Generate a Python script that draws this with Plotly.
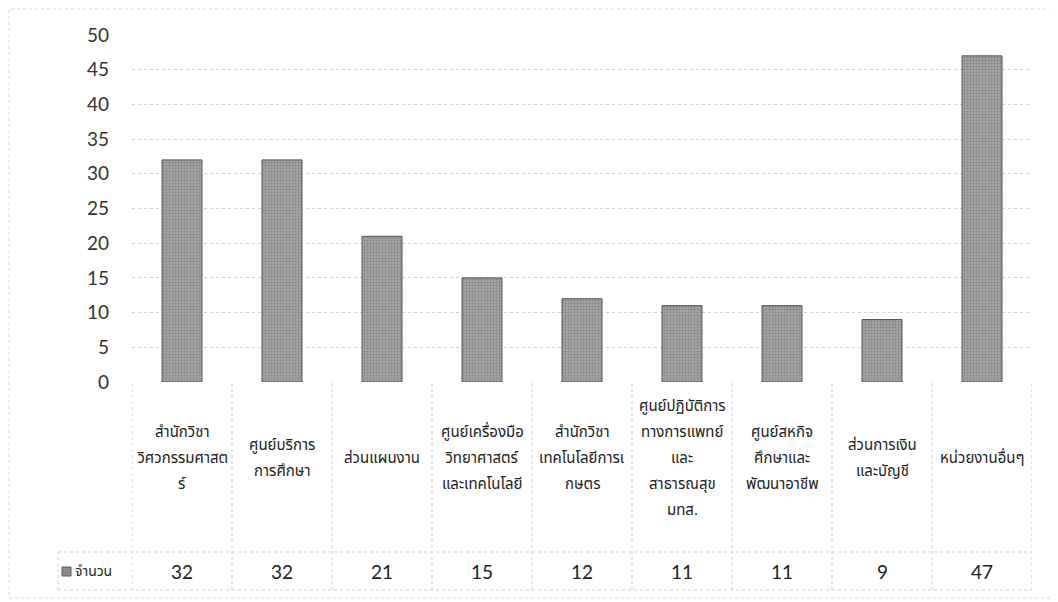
import plotly.graph_objects as go

categories = [
    "สำนักวิชาวิศวกรรมศาสตร์",
    "ศูนย์บริการการศึกษา",
    "ส่วนแผนงาน",
    "ศูนย์เครื่องมือวิทยาศาสตร์และเทคโนโลยี",
    "สำนักวิชาเทคโนโลยีการเกษตร",
    "ศูนย์ปฏิบัติการทางการแพทย์และสาธารณสุข มทส.",
    "ศูนย์สหกิจศึกษาและพัฒนาอาชีพ",
    "ส่วนการเงินและบัญชี",
    "หน่วยงานอื่นๆ",
]
label_lines = [
    ["สำนักวิชา", "วิศวกรรมศาสต", "ร์"],
    ["ศูนย์บริการ", "การศึกษา"],
    ["ส่วนแผนงาน"],
    ["ศูนย์เครื่องมือ", "วิทยาศาสตร์", "และเทคโนโลยี"],
    ["สำนักวิชา", "เทคโนโลยีการเ", "กษตร"],
    ["ศูนย์ปฏิบัติการ", "ทางการแพทย์", "และ", "สาธารณสุข", "มทส."],
    ["ศูนย์สหกิจ", "ศึกษาและ", "พัฒนาอาชีพ"],
    ["ส่วนการเงิน", "และบัญชี"],
    ["หน่วยงานอื่นๆ"],
]
values = [32, 32, 21, 15, 12, 11, 11, 9, 47]
series_name = "จำนวน"
y_ticks = [0, 5, 10, 15, 20, 25, 30, 35, 40, 45, 50]

OFF = 8  # page body margin
W, H = 1058, 602
SX0, SX1, SY0, SY1 = 132, 1032, 35, 382
L = SX0 - OFF
T = SY0 - OFF
R = W - (SX1 - OFF)
B = H - (SY1 - OFF)
PH = H - T - B
PW = W - L - R


def py(pix):
    return (SY1 - pix) / PH


def px(pix):
    return (pix - SX0) / PW


THAI = "Noto Sans Thai, Tahoma, Noto Sans, sans-serif"
NUM = "Lato, Open Sans, sans-serif"

fig = go.Figure()
fig.add_trace(go.Bar(
    x=categories, y=values, name=series_name, width=0.4,
    marker=dict(color="#999999", line=dict(color="#555555", width=1),
                pattern=dict(shape=".", fgcolor="#666666", bgcolor="#a3a3a3",
                             size=3, solidity=0.35)),
    showlegend=False,
))

shapes = []
grid_col = "#cfcfcf"
shapes.append(dict(type="rect", xref="paper", yref="paper",
                   x0=px(9), x1=px(1052), y0=py(598), y1=py(9),
                   line=dict(color="#d6d6d6", width=1, dash="dot")))
n = len(categories)
for i in range(n + 1):
    shapes.append(dict(type="line", xref="x", yref="paper",
                       x0=i - 0.5, x1=i - 0.5, y0=py(590), y1=0,
                       line=dict(color=grid_col, width=1, dash="dot")))
shapes.append(dict(type="line", xref="paper", yref="paper",
                   x0=px(58), x1=px(58), y0=py(590), y1=py(552),
                   line=dict(color=grid_col, width=1, dash="dot")))
for yy in (552, 590):
    shapes.append(dict(type="line", xref="paper", yref="paper",
                       x0=px(58), x1=1, y0=py(yy), y1=py(yy),
                       line=dict(color=grid_col, width=1, dash="dot")))
shapes.append(dict(type="rect", xref="paper", yref="paper",
                   x0=px(62), x1=px(71), y0=py(576), y1=py(567),
                   fillcolor="#8c8c8c", line=dict(color="#5a5a5a", width=1)))

annotations = []
spacing = 26
center = 458
for cat, lines in zip(categories, label_lines):
    k = len(lines)
    for j, line in enumerate(lines):
        yy = center + (j - (k - 1) / 2) * spacing
        annotations.append(dict(x=cat, xref="x", y=py(yy), yref="paper",
                                text=line, showarrow=False, xanchor="center",
                                yanchor="middle",
                                font=dict(family=THAI, size=15, color="#222222")))
for cat, v in zip(categories, values):
    annotations.append(dict(x=cat, xref="x", y=py(571), yref="paper",
                            text=str(v), showarrow=False, xanchor="center",
                            yanchor="middle",
                            font=dict(family=NUM, size=19, color="#222222")))
annotations.append(dict(x=px(73), xref="paper", y=py(571), yref="paper",
                        text=series_name, showarrow=False, xanchor="left",
                        yanchor="middle",
                        font=dict(family=THAI, size=14, color="#222222")))

fig.update_layout(
    width=W, height=H,
    margin=dict(l=L, r=R, t=T, b=B, autoexpand=False),
    paper_bgcolor="white", plot_bgcolor="white",
    shapes=shapes, annotations=annotations,
)
fig.update_xaxes(type="category", range=[-0.5, n - 0.5], showticklabels=False,
                 showgrid=False, zeroline=False, showline=False, ticks="")
fig.update_yaxes(range=[0, 50], tickvals=y_ticks, showgrid=True,
                 gridcolor=grid_col, gridwidth=1, griddash="dot",
                 zeroline=False, showline=False, ticks="",
                 ticklabelstandoff=22,
                 tickfont=dict(family=NUM, size=19, color="#333333"))

fig.write_html("out.html")
